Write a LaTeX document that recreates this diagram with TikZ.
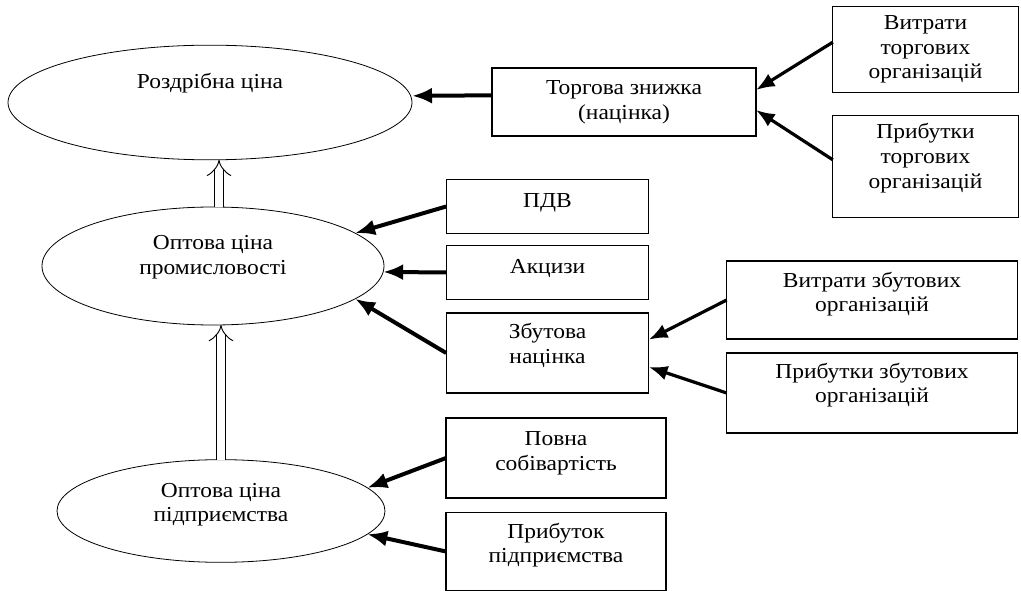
\documentclass[tikz,border=0pt]{standalone}
\usepackage{fontspec}
\setmainfont[FakeStretch=1.1]{Liberation Serif}
\usetikzlibrary{arrows.meta,shapes.geometric}
% deep strut on the last line: lifts the text inside its shape
\newcommand{\dropline}[1]{\rule[-#1]{0pt}{#1}}

\begin{document}
\begin{tikzpicture}[x=0.75pt,y=-0.75pt,>=Latex,
    every node/.style={font=\fontsize{16}{18.5}\selectfont,align=center},
    box/.style={draw,line width=0.9pt,inner sep=0pt,outer sep=0pt},
    oval/.style={draw,ellipse,line width=0.6pt,inner sep=0pt,outer sep=0pt},
    feed/.style={line width=3pt,-{Latex[length=15pt,width=12pt]}},
    part/.style={line width=2.4pt,-{Latex[length=14pt,width=11pt]}},
    rise/.style={double,double distance=6pt,line width=0.7pt,-{Implies}}]
    \useasboundingbox (0,0) rectangle (1021,591);
    % prices
    \node[oval,minimum width=303pt,minimum height=86pt] (retail) at (210,102.5)
        {Роздрібна ціна\dropline{33pt}};
    \node[oval,minimum width=256.5pt,minimum height=88.5pt] (wholesale) at (213,266)
        {Оптова ціна\\промисловості\dropline{17pt}};
    \node[oval,minimum width=246pt,minimum height=77pt] (factory) at (221,511)
        {Оптова ціна\\підприємства\dropline{13pt}};
    % trade level
    \node[box,minimum width=198pt,minimum height=51pt] (trade) at (624,102)
        {Торгова знижка\\(націнка)};
    \node[box,minimum width=139pt,minimum height=65pt] (tcost) at (925.5,49.5)
        {Витрати\\торгових\\організацій};
    \node[box,minimum width=139pt,minimum height=77pt] (tprofit) at (925.5,166.5)
        {Прибутки\\торгових\\організацій\dropline{16pt}};
    % industry level
    \node[box,minimum width=152pt,minimum height=40pt] (pdv) at (547.5,206.5)
        {ПДВ\dropline{9pt}};
    \node[box,minimum width=152pt,minimum height=40pt] (excise) at (547.5,272.5)
        {Акцизи\dropline{9pt}};
    \node[box,minimum width=152pt,minimum height=60pt] (salemark) at (547.5,353)
        {Збутова\\націнка\dropline{14pt}};
    \node[box,minimum width=218pt,minimum height=58.5pt] (scost) at (872,300)
        {Витрати збутових\\організацій\dropline{12pt}};
    \node[box,minimum width=218pt,minimum height=60pt] (sprofit) at (872,393)
        {Прибутки збутових\\організацій\dropline{15pt}};
    % enterprise level
    \node[box,minimum width=165pt,minimum height=60pt] (fullcost) at (556,458)
        {Повна\\собівартість\dropline{10pt}};
    \node[box,minimum width=165pt,minimum height=58pt] (fprofit) at (556,551.5)
        {Прибуток\\підприємства\dropline{13pt}};

    \draw[feed] ([yshift=5pt]trade.west) -- ([yshift=5pt]retail.east);
    \draw[part] ([yshift=5.5pt]tcost.west) -- ([yshift=9pt]trade.east);
    \draw[part] ([yshift=5pt]tprofit.west) -- ([yshift=-6pt]trade.east);
    \draw[feed] (pdv.west) -- (wholesale.13.5);
    \draw[feed] (excise.west) -- (wholesale.-2);
    \draw[feed] (salemark.west) -- (wholesale.-13.5);
    \draw[part] (scost.west) -- ([yshift=10pt]salemark.east);
    \draw[part] (sprofit.west) -- ([yshift=-10.5pt]salemark.east);
    \draw[feed] (fullcost.west) -- (factory.9);
    \draw[feed] (fprofit.west) -- (factory.-9);
    \draw[rise] ([xshift=4.5pt]wholesale.north) -- ([xshift=4.5pt]wholesale.north |- retail.south);
    \draw[rise] (factory.north) -- (factory.north |- wholesale.south);
\end{tikzpicture}
\end{document}
